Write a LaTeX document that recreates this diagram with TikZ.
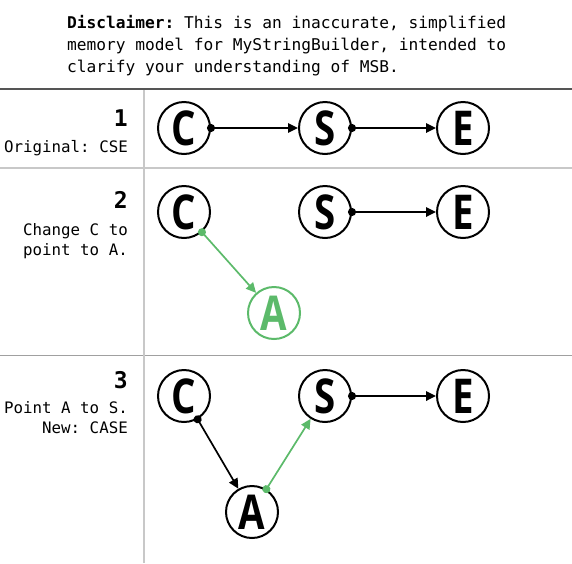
\documentclass[tikz,border=0pt]{standalone}
\usepackage{fontspec}
\setmonofont{DejaVu Sans Mono}
\newfontfamily\letterfont{Open Sans}[FakeStretch=0.8]
\usepackage{tikz}
\usetikzlibrary{positioning}
\usetikzlibrary{arrows.meta}
\usepackage{xcolor}

\definecolor{linkgreen}{RGB}{92,186,106}
\definecolor{topgray}{RGB}{85,85,85}
\definecolor{midgray}{RGB}{160,160,160}
\definecolor{lightgray}{RGB}{200,200,200}

\tikzset{
  letter/.style={circle, draw=black, line width=2pt, minimum size=52pt, inner sep=0pt,
    font=\letterfont\bfseries\fontsize{48}{48}\selectfont},
  link/.style={line width=1.7pt, {Circle[length=8pt]}-{Triangle[length=10pt,width=9.5pt]},
    shorten <=-4pt},
  note/.style={inner sep=0pt, font=\ttfamily\fontsize{15.8}{19}\selectfont},
  disclaim/.style={inner sep=0pt, anchor=base west, font=\ttfamily\fontsize{16.2}{19}\selectfont},
  stepnum/.style={inner sep=0pt, anchor=base east, font=\ttfamily\bfseries\fontsize{23}{23}\selectfont},
}

\begin{document}
\begin{tikzpicture}[x=1pt, y=-1pt]
\useasboundingbox (0,0) rectangle (572,563);

% disclaimer
\node[disclaim] (disc1) at (67,28) {\textbf{Disclaimer:} This is an inaccurate, simplified};
\node[disclaim] (disc2) at (67,50) {memory model for MyStringBuilder, intended to};
\node[disclaim] (disc3) at (67,72) {clarify your understanding of MSB.};

% table lines
\draw[topgray, line width=1.5pt] (0,89) -- (572,89);
\draw[lightgray, line width=1.5pt] (0,168) -- (572,168);
\draw[midgray, line width=1pt] (0,355) -- (572,355);
\draw[lightgray, line width=2pt] (144,90) -- (144,563);


% row 1
\node[stepnum] (num1) at (128,126) {1};
\node[note, anchor=base east] (lab1) at (128,152) {Original: CSE};

\node[letter] (C1) at (184,128) {C};
\node[letter] (S1) at (325,128) {S};
\node[letter] (E1) at (463,128) {E};

\draw[link] (C1) -- (S1);
\draw[link] (S1) -- (E1);


% row 2
\node[stepnum] (num2) at (128,208) {2};
\node[note, anchor=base east] (lab2a) at (128,235.5) {Change C to};
\node[note, anchor=base east] (lab2b) at (128,255.5) {point to A.};

\node[letter] (C2) at (184,212) {C};
\node[letter] (S2) at (325,212) {S};
\node[letter] (E2) at (463,212) {E};
\node[letter, draw=linkgreen, text=linkgreen] (A2) at (274,313) {A};

\draw[link] (S2) -- (E2);
\draw[link, linkgreen] (C2) -- (A2);


% row 3
\node[stepnum] (num3) at (128,388) {3};
\node[note, anchor=base east] (lab3a) at (128,413.5) {Point A to S.};
\node[note, anchor=base east] (lab3b) at (128,433.5) {New: CASE};

\node[letter] (C3) at (184,396) {C};
\node[letter] (S3) at (325,396) {S};
\node[letter] (E3) at (463,396) {E};
\node[letter] (A3) at (252,512) {A};

\draw[link] (C3) -- (A3);
\draw[link, linkgreen] (A3) -- (S3);
\draw[link] (S3) -- (E3);

\end{tikzpicture}
\end{document}
